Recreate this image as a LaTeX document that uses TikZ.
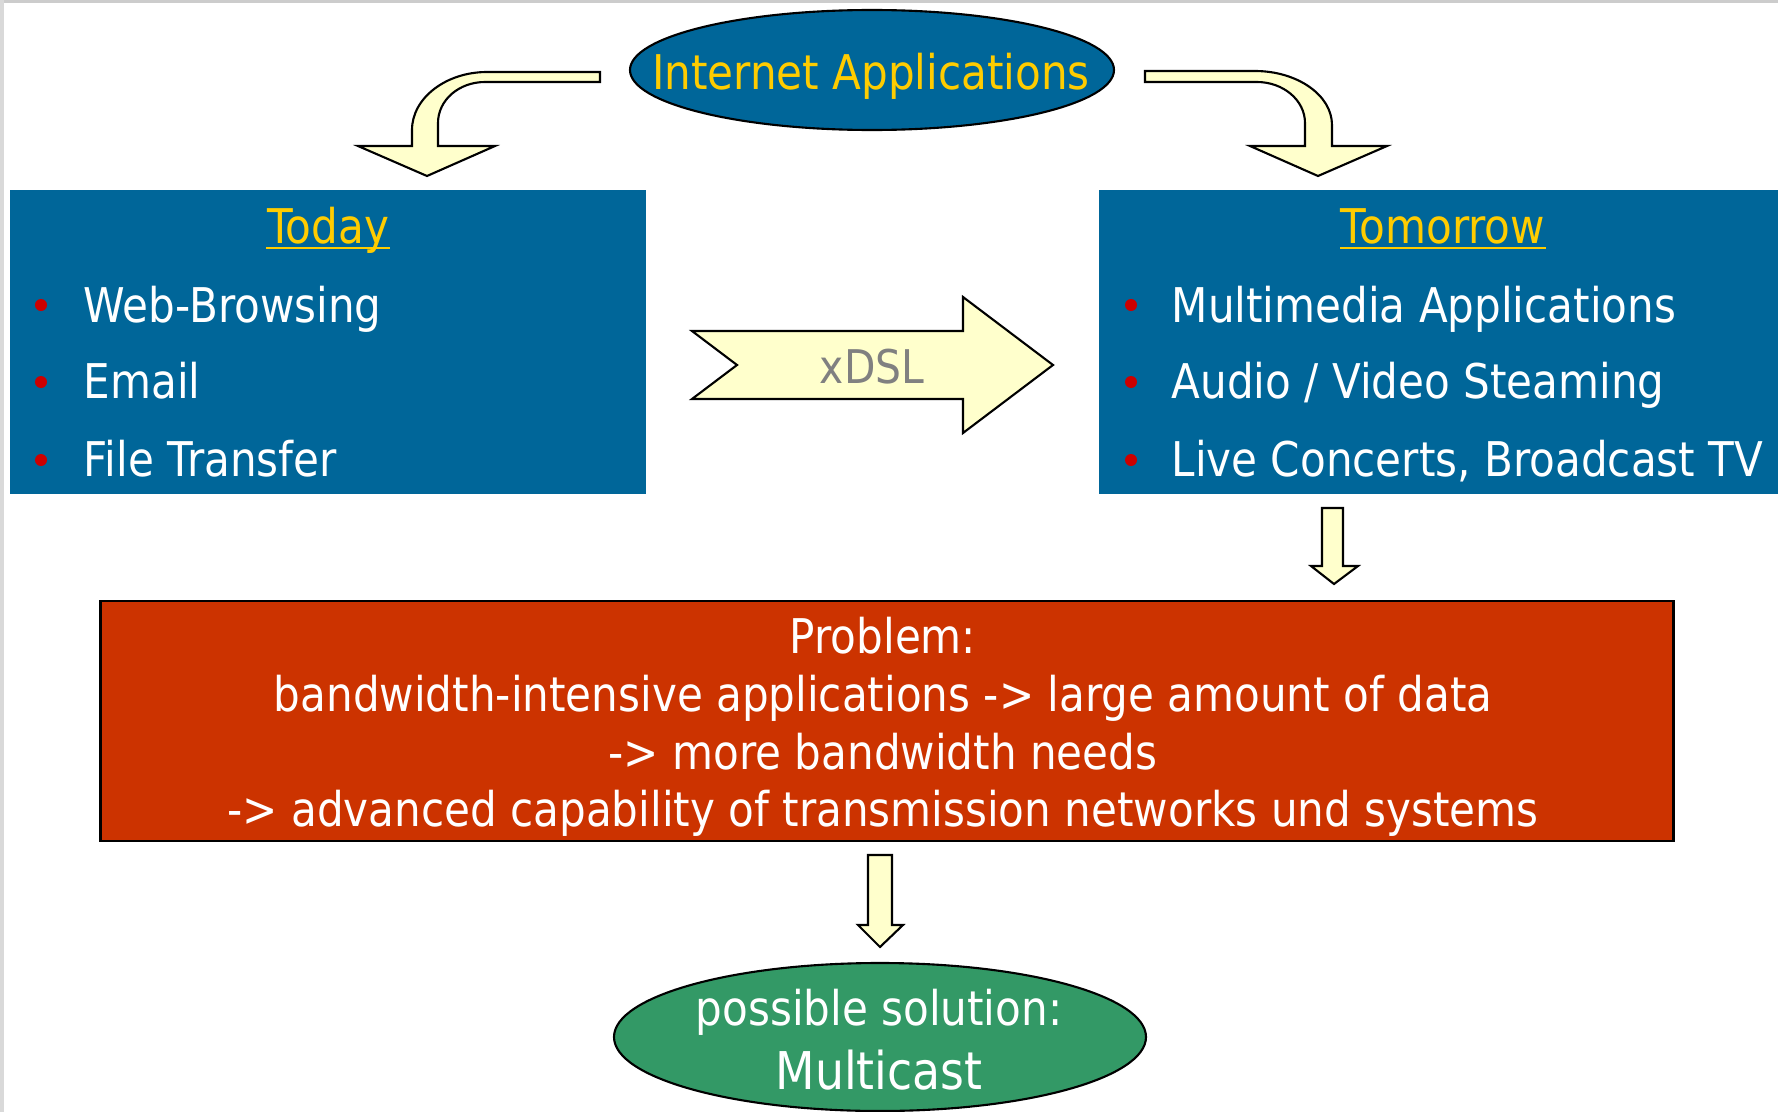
\documentclass[tikz,border=0pt]{standalone}
\usepackage{fontspec}
\setmainfont{DejaVu Sans}[FakeStretch=0.88]
\usetikzlibrary{calc}
\definecolor{bluec}{HTML}{006699}
\definecolor{goldc}{HTML}{FFCC00}
\definecolor{redc}{HTML}{CC3300}
\definecolor{greenc}{HTML}{339966}
\definecolor{arrc}{HTML}{FFFFCC}
\definecolor{bulc}{HTML}{CC0000}
\begin{document}
\begin{tikzpicture}[x=0.01cm, y=-0.01cm, font=\fontsize{13.6}{16.4}\selectfont,
      panel/.style={fill=bluec, minimum width=6.36cm, minimum height=3.03cm, inner sep=0pt},
      blockarr/.style={draw=black, fill=arrc, line width=0.6pt},
      title/.style={anchor=base, text=goldc, inner sep=0pt},
      item/.style={anchor=base west, text=white, inner sep=0pt},
      dot/.style={circle, fill=bulc, minimum size=0.12cm, inner sep=0pt},
      uline/.style={goldc, line width=0.85pt}]
    \useasboundingbox (0,0) rectangle (1778,1112);
    \fill[gray!40] (0,0) rectangle (1778,3);
    \fill[gray!30] (0,0) rectangle (4,1112);

    % top: internet applications
    \draw[fill=bluec, line width=0.6pt] (872,70) ellipse (242 and 60);
    \node[anchor=base, text=goldc, inner sep=0pt] (inet) at (871,90) {Internet Applications};

    % today / tomorrow panels
    \node[panel] (todaybox) at (328,342) {};
    \node[panel, minimum width=6.79cm] (tombox) at (1438.5,342) {};

    \node[title] (today) at (328,243) {Today};
    \draw[uline] ($(today.base west)+(0,5)$) -- ($(today.base east)+(0,5)$);
    \node[title] (tomorrow) at (1443,243) {Tomorrow};
    \draw[uline] ($(tomorrow.base west)+(0,5)$) -- ($(tomorrow.base east)+(0,5)$);

    \node[dot] (da) at (41,305) {};
    \node[dot] (db) at (41,382) {};
    \node[dot] (dc) at (41,460) {};
    \node[item] (web) at (83,322) {Web-Browsing};
    \node[item] (mail) at (83,398) {Email};
    \node[item] (ftp) at (83,476) {File Transfer};

    \node[dot] (de) at (1131,305) {};
    \node[dot] (df) at (1131,382) {};
    \node[dot] (dg) at (1131,460) {};
    \node[item] (mm) at (1171,322) {Multimedia Applications};
    \node[item] (av) at (1171,398) {Audio / Video Steaming};
    \node[item] (live) at (1171,476) {Live Concerts, Broadcast TV};

    % block arrows
    \draw[blockarr] (600,72) -- (487,72) .. controls (446,72) and (412,98) .. (412,130)
      -- (412,146) -- (358,146) -- (427,176) -- (495,146) -- (438,146) -- (438,123)
      .. controls (438,100) and (459,82) .. (485,82) -- (600,82) -- cycle;
    \draw[blockarr] (1145,71) -- (1255,71) .. controls (1297,71) and (1332,95) .. (1332,125)
      -- (1332,146) -- (1387,146) -- (1318,176) -- (1250,146) -- (1305,146) -- (1305,123)
      .. controls (1305,100) and (1283,82) .. (1257,82) -- (1145,82) -- cycle;
    \draw[blockarr] (692,331) -- (963,331) -- (963,297) -- (1053,365) -- (963,433)
      -- (963,399) -- (692,399) -- (737,365) -- cycle;
    \node[anchor=base, text=gray, inner sep=0pt, font=\fontsize{13.2}{15}\selectfont] (xdsl) at (872,383) {xDSL};
    \draw[blockarr] (1322,508) -- (1343,508) -- (1343,566) -- (1358,566) -- (1334,584)
      -- (1311,566) -- (1322,566) -- cycle;

    % problem
    \node[fill=redc, draw=black, line width=0.8pt, minimum width=15.72cm, minimum height=2.40cm,
          inner sep=0pt] (problembox) at (887,721) {};
    \node[align=center, text=white, inner sep=0pt] (problem) at (883,727)
      {Problem:\\ bandwidth-intensive applications -> large amount of data\\
       -> more bandwidth needs\\ -> advanced capability of transmission networks und systems};
    \draw[blockarr] (868,855) -- (892,855) -- (892,925) -- (903,925) -- (880,947)
      -- (858,925) -- (868,925) -- cycle;

    % solution
    \draw[fill=greenc, line width=0.6pt] (880,1037) ellipse (266 and 74);
    \node[anchor=base, text=white, inner sep=0pt] (sol) at (879,1025) {possible solution:};
    \node[anchor=base, text=white, inner sep=0pt, font=\fontsize{14.8}{17}\selectfont] (mcast) at (879,1089) {Multicast};
\end{tikzpicture}
\end{document}
